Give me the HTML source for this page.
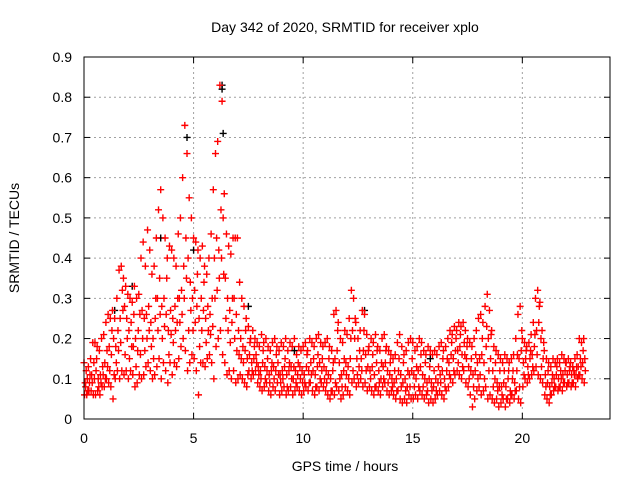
<!DOCTYPE html>
<html><head><meta charset="utf-8"><style>
body{margin:0;background:#fff}
svg text{font-family:"Liberation Sans",sans-serif;font-size:14px;fill:#000}
</style></head><body>
<svg id="chart" width="640" height="480" xmlns="http://www.w3.org/2000/svg">
<rect width="640" height="480" fill="#fff"/>
<text x="345" y="32" text-anchor="middle">Day 342 of 2020, SRMTID for receiver xplo</text>
<text x="345" y="471" text-anchor="middle">GPS time / hours</text>
<text transform="translate(19,238) rotate(-90)" text-anchor="middle">SRMTID / TECUs</text>
<g id="grid"></g>
<g id="ticks"></g>
<g id="black"></g>
<g id="red"></g>
<rect x="84" y="57" width="526" height="362" fill="none" stroke="#000" stroke-width="1"/>
</svg>
<script>
const xTicks=[0,5,10,15,20];
const yTicks=[0,0.1,0.2,0.3,0.4,0.5,0.6,0.7,0.8,0.9];
const yTickLabels=["0","0.1","0.2","0.3","0.4","0.5","0.6","0.7","0.8","0.9"];
const seriesHi=[0.14,0.12,0.13,0.15,0.19,0.19,0.18,0.17,0.20,0.21,
0.24,0.26,0.25,0.27,0.25,0.30,0.37,0.38,0.35,0.33,
0.31,0.30,0.29,0.33,0.30,0.31,0.40,0.44,0.38,0.47,
0.42,0.36,0.38,0.45,0.52,0.57,0.50,0.45,0.40,0.43,
0.42,0.40,0.38,0.46,0.50,0.60,0.73,0.66,0.55,0.50,
0.45,0.44,0.42,0.40,0.43,0.38,0.36,0.40,0.46,0.57,
0.66,0.69,0.83,0.79,0.56,0.46,0.43,0.41,0.45,0.45,
0.45,0.34,0.30,0.28,0.25,0.23,0.20,0.22,0.20,0.19,
0.18,0.21,0.19,0.20,0.18,0.17,0.19,0.20,0.18,0.17,
0.19,0.18,0.20,0.17,0.19,0.18,0.20,0.16,0.18,0.17,
0.18,0.19,0.17,0.20,0.19,0.18,0.20,0.21,0.19,0.18,
0.19,0.20,0.18,0.17,0.26,0.27,0.24,0.20,0.19,0.22,
0.21,0.25,0.32,0.30,0.24,0.20,0.22,0.27,0.26,0.21,
0.18,0.20,0.19,0.21,0.18,0.17,0.20,0.21,0.18,0.17,
0.16,0.15,0.16,0.19,0.21,0.18,0.16,0.17,0.19,0.20,
0.19,0.17,0.18,0.20,0.19,0.17,0.16,0.18,0.17,0.16,
0.17,0.16,0.18,0.19,0.17,0.18,0.20,0.22,0.21,0.23,
0.22,0.24,0.23,0.24,0.22,0.20,0.19,0.18,0.20,0.22,
0.25,0.26,0.24,0.28,0.31,0.27,0.22,0.18,0.17,0.16,
0.15,0.14,0.16,0.15,0.14,0.15,0.16,0.20,0.26,0.28,
0.20,0.19,0.18,0.19,0.21,0.24,0.30,0.32,0.29,0.22,
0.17,0.15,0.14,0.13,0.15,0.14,0.15,0.14,0.16,0.15,
0.14,0.15,0.14,0.13,0.15,0.16,0.20,0.19,0.20];
const seriesLo=[0.06,0.06,0.07,0.07,0.06,0.06,0.07,0.06,0.08,0.08,
0.10,0.09,0.08,0.05,0.10,0.12,0.10,0.12,0.11,0.12,
0.10,0.12,0.11,0.08,0.09,0.11,0.10,0.11,0.13,0.14,
0.12,0.10,0.11,0.13,0.15,0.10,0.14,0.12,0.09,0.14,
0.11,0.14,0.13,0.15,0.18,0.20,0.17,0.12,0.14,0.16,
0.15,0.12,0.06,0.14,0.14,0.13,0.15,0.16,0.14,0.10,
0.18,0.20,0.22,0.16,0.14,0.11,0.12,0.10,0.12,0.09,
0.10,0.11,0.10,0.09,0.08,0.12,0.10,0.11,0.12,0.09,
0.08,0.07,0.08,0.09,0.07,0.06,0.08,0.07,0.09,0.06,
0.07,0.08,0.06,0.07,0.08,0.06,0.07,0.08,0.07,0.06,
0.07,0.08,0.07,0.09,0.07,0.06,0.08,0.07,0.09,0.08,
0.07,0.06,0.05,0.07,0.06,0.08,0.07,0.05,0.06,0.08,
0.07,0.06,0.09,0.10,0.08,0.09,0.10,0.08,0.09,0.07,
0.08,0.07,0.06,0.08,0.07,0.06,0.08,0.09,0.07,0.06,
0.07,0.06,0.05,0.07,0.05,0.04,0.05,0.04,0.06,0.05,
0.05,0.06,0.05,0.07,0.06,0.05,0.06,0.04,0.05,0.04,
0.05,0.06,0.07,0.06,0.05,0.07,0.08,0.10,0.09,0.11,
0.12,0.11,0.10,0.12,0.09,0.08,0.06,0.03,0.05,0.07,
0.08,0.06,0.07,0.08,0.05,0.06,0.05,0.04,0.05,0.03,
0.04,0.05,0.03,0.05,0.04,0.06,0.05,0.07,0.05,0.04,
0.08,0.10,0.09,0.10,0.11,0.12,0.13,0.11,0.10,0.09,
0.06,0.05,0.04,0.06,0.07,0.08,0.07,0.08,0.07,0.09,
0.08,0.09,0.08,0.09,0.08,0.10,0.11,0.10,0.09];
const seriesMid=[0.09,0.10,0.09,0.11,0.14,0.12,0.10,0.11,0.13,0.14,
0.17,0.18,0.16,0.20,0.18,0.22,0.25,0.32,0.28,0.25,
0.22,0.24,0.18,0.20,0.17,0.26,0.27,0.25,0.26,0.28,
0.24,0.20,0.25,0.30,0.35,0.28,0.30,0.26,0.22,0.27,
0.25,0.28,0.24,0.30,0.32,0.38,0.45,0.40,0.34,0.30,
0.32,0.28,0.25,0.30,0.27,0.25,0.28,0.26,0.30,0.40,
0.45,0.42,0.52,0.50,0.35,0.30,0.27,0.24,0.30,0.26,
0.22,0.20,0.18,0.17,0.15,0.16,0.14,0.15,0.16,0.13,
0.12,0.14,0.13,0.12,0.11,0.12,0.13,0.12,0.14,0.11,
0.12,0.13,0.11,0.12,0.13,0.10,0.12,0.11,0.13,0.12,
0.11,0.13,0.12,0.14,0.12,0.11,0.13,0.14,0.12,0.13,
0.12,0.11,0.10,0.12,0.15,0.17,0.14,0.11,0.12,0.14,
0.13,0.15,0.22,0.20,0.15,0.13,0.15,0.17,0.16,0.13,
0.12,0.13,0.11,0.14,0.12,0.10,0.13,0.14,0.12,0.11,
0.10,0.09,0.10,0.12,0.11,0.09,0.10,0.08,0.11,0.12,
0.11,0.10,0.12,0.13,0.11,0.10,0.09,0.10,0.09,0.08,
0.10,0.09,0.11,0.12,0.10,0.12,0.14,0.16,0.15,0.17,
0.17,0.18,0.16,0.19,0.15,0.13,0.12,0.11,0.12,0.14,
0.15,0.16,0.14,0.18,0.20,0.15,0.12,0.10,0.09,0.08,
0.08,0.09,0.08,0.10,0.07,0.10,0.09,0.12,0.15,0.17,
0.14,0.15,0.13,0.15,0.16,0.18,0.22,0.24,0.20,0.15,
0.11,0.09,0.08,0.09,0.10,0.11,0.10,0.12,0.11,0.12,
0.11,0.12,0.11,0.12,0.11,0.13,0.15,0.14,0.15];
const seriesQ=[0.08,0.07,0.11,0.09,0.10,0.15,0.08,0.09,0.11,0.10,
0.13,0.12,0.22,0.11,0.14,0.17,0.19,0.27,0.16,0.20,
0.15,0.18,0.26,0.13,0.22,0.16,0.20,0.17,0.20,0.22,
0.18,0.15,0.30,0.22,0.26,0.20,0.23,0.35,0.16,0.21,
0.19,0.22,0.30,0.24,0.26,0.30,0.35,0.22,0.27,0.22,
0.24,0.36,0.18,0.22,0.34,0.19,0.22,0.21,0.23,0.30,
0.32,0.35,0.40,0.36,0.25,0.22,0.19,0.30,0.20,0.17,
0.16,0.15,0.14,0.22,0.11,0.19,0.12,0.18,0.14,0.11,
0.10,0.17,0.10,0.15,0.09,0.14,0.10,0.16,0.11,0.09,
0.10,0.15,0.08,0.14,0.10,0.13,0.09,0.14,0.10,0.09,
0.09,0.16,0.09,0.11,0.15,0.08,0.16,0.10,0.15,0.10,
0.09,0.15,0.07,0.14,0.09,0.22,0.10,0.08,0.15,0.11,
0.10,0.20,0.12,0.25,0.11,0.17,0.12,0.22,0.12,0.17,
0.10,0.16,0.08,0.17,0.09,0.14,0.10,0.17,0.09,0.14,
0.08,0.12,0.07,0.15,0.08,0.14,0.07,0.12,0.08,0.15,
0.08,0.13,0.08,0.16,0.08,0.14,0.07,0.13,0.07,0.12,
0.07,0.13,0.09,0.15,0.08,0.15,0.11,0.19,0.12,0.20,
0.14,0.21,0.13,0.16,0.18,0.10,0.15,0.08,0.16,0.10,
0.11,0.20,0.10,0.23,0.12,0.21,0.08,0.14,0.07,0.12,
0.06,0.12,0.05,0.12,0.06,0.12,0.07,0.16,0.08,0.22,
0.11,0.17,0.11,0.17,0.13,0.21,0.16,0.28,0.13,0.19,
0.08,0.12,0.06,0.11,0.08,0.13,0.08,0.10,0.09,0.14,
0.09,0.13,0.09,0.11,0.13,0.11,0.13,0.17,0.12];
const blackX=[4.7,6.3,6.3,6.35,5.0,2.2,12.8,3.5,15.8,7.5,1.4,9.6];
const blackY=[0.70,0.83,0.82,0.71,0.42,0.33,0.27,0.45,0.15,0.28,0.27,0.17];
const timeStep=0.1;

const X0=84,X1=610,Y0=419,Y1=57,XMAX=24,YMAX=0.9;
function xs(v){return X0+(X1-X0)*v/XMAX;}
function ys(v){return Y0-(Y0-Y1)*v/YMAX;}
const NS="http://www.w3.org/2000/svg";
function mk(tag,attrs,parent){const e=document.createElementNS(NS,tag);for(const k in attrs)e.setAttribute(k,attrs[k]);parent.appendChild(e);return e;}
const grid=document.getElementById('grid'),ticks=document.getElementById('ticks');
xTicks.forEach((t,i)=>{
  const x=xs(t);
  if(t>0){const g=mk('line',{x1:x,x2:x,y1:Y1,y2:Y0,stroke:'#a0a0a0','stroke-dasharray':'2,3'},grid);
  
  }
  mk('line',{x1:x,x2:x,y1:Y0,y2:Y0-6,stroke:'#000'},ticks);
  mk('line',{x1:x,x2:x,y1:Y1,y2:Y1+6,stroke:'#000'},ticks);
  const tx=mk('text',{x:x,y:443,'text-anchor':'middle'},ticks);tx.textContent=String(t);
  
  
});
yTicks.forEach((t,i)=>{
  const y=ys(t);
  if(t>0&&t<YMAX){const g=mk('line',{x1:X0,x2:X1,y1:y,y2:y,stroke:'#a0a0a0','stroke-dasharray':'2,3'},grid);
  
  }
  mk('line',{x1:X0,x2:X0+6,y1:y,y2:y,stroke:'#000'},ticks);
  mk('line',{x1:X1,x2:X1-6,y1:y,y2:y,stroke:'#000'},ticks);
  const tx=mk('text',{x:72,y:y+5,'text-anchor':'end'},ticks);tx.textContent=yTickLabels[i];
  
  
});
function cross(parent,xv,yv,color){
  const x=xs(xv),y=ys(yv);
  const p=mk('path',{d:`M${x-3.5} ${y}H${x+3.5}M${x} ${y-3.5}V${y+3.5}`,stroke:color,'stroke-width':1.4,fill:'none'},parent);
  
  
}
const bl=document.getElementById('black'),rd=document.getElementById('red');
blackX.forEach((x,i)=>cross(bl,x,blackY[i],'#000'));
seriesHi.forEach((v,i)=>cross(rd,i*timeStep,v,'#ff0000'));
seriesLo.forEach((v,i)=>cross(rd,i*timeStep+0.025,v,'#ff0000'));
seriesMid.forEach((v,i)=>cross(rd,i*timeStep+0.05,v,'#ff0000'));
seriesQ.forEach((v,i)=>cross(rd,i*timeStep+0.075,v,'#ff0000'));
</script>
</body></html>
